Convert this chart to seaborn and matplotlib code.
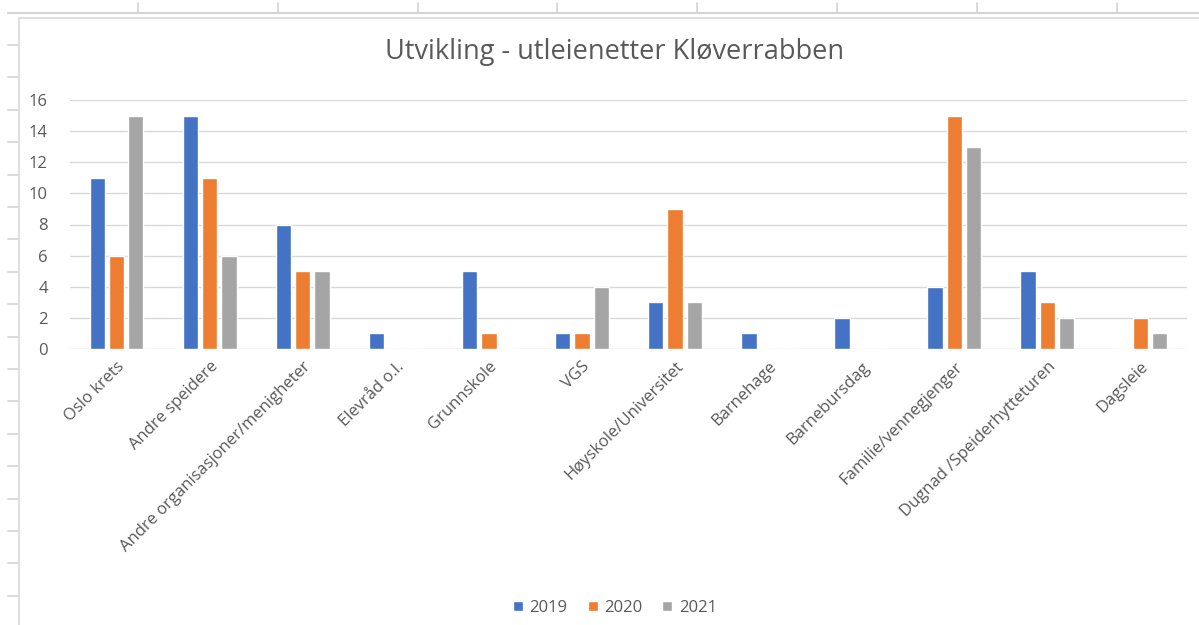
import pandas as pd
import matplotlib.pyplot as plt
import seaborn as sns
from matplotlib.lines import Line2D
from matplotlib.patches import Rectangle

# data
categories = ['Oslo krets', 'Andre speidere', 'Andre organisasjoner/menigheter', 'Elevråd o.l.',
              'Grunnskole', 'VGS', 'Høyskole/Universitet', 'Barnehage', 'Barnebursdag',
              'Familie/vennegjenger', 'Dugnad /Speiderhytteturen', 'Dagsleie']
years = ['2019', '2020', '2021']
v2019 = [11, 15, 8, 1, 5, 1, 3, 1, 2, 4, 5, 0]
v2020 = [6, 11, 5, 0, 1, 1, 9, 0, 0, 15, 3, 2]
v2021 = [15, 6, 5, 0, 0, 4, 3, 0, 0, 13, 2, 1]
colors = ['#4472C4', '#ED7D31', '#A5A5A5']

df = pd.DataFrame({'Kategori': categories * 3,
                   'År': [y for y in years for _ in categories],
                   'Antall': v2019 + v2020 + v2021})

sns.set_style('white')
plt.rcParams['font.family'] = ['Open Sans', 'DejaVu Sans']
text_col = '#595959'

W, H = 1199, 625
fig = plt.figure(figsize=(W / 100, H / 100), dpi=100)
fig.patch.set_facecolor('white')

# spreadsheet background (row/column lines)
grid_col = '#d4d4d4'
fig.add_artist(Line2D([8 / W, 1], [1 - 13 / H, 1 - 13 / H], color=grid_col, lw=1.5, zorder=-2))
for x in [138, 278, 418, 557, 697, 837, 977, 1117]:
    fig.add_artist(Line2D([x / W, x / W], [1 - 3 / H, 1 - 13 / H], color=grid_col, lw=1.2, zorder=-2))
y = 45
while y < H:
    fig.add_artist(Line2D([8 / W, 19 / W], [1 - y / H, 1 - y / H], color=grid_col, lw=1.2, zorder=-2))
    y += 32.4

# chart area border
fig.add_artist(Rectangle((19 / W, -0.05), 1.1, 1 - 18 / H + 0.05, transform=fig.transFigure,
                         facecolor='white', edgecolor='#d9d9d9', lw=1.2, zorder=-1))

ax = fig.add_axes([70 / W, 1 - 349 / H, (1187 - 70) / W, (349 - 100) / H])
ax.patch.set_alpha(0)
sns.barplot(data=df, x='Kategori', y='Antall', hue='År', hue_order=years, palette=colors,
            order=categories, width=0.62, gap=0.2, saturation=1, ax=ax, legend=False)

ax.set_ylim(0, 16)
ax.set_yticks(range(0, 17, 2))
ax.yaxis.grid(True, color='#d9d9d9', lw=1)
ax.set_axisbelow(True)
for s in ax.spines.values():
    s.set_visible(False)
ax.set_xlabel('')
ax.set_ylabel('')
ax.tick_params(axis='both', length=0, labelsize=12, labelcolor=text_col)
ax.tick_params(axis='y', pad=16)
ax.tick_params(axis='x', pad=7)
ax.set_xticks(range(len(categories)))
ax.set_xticklabels(categories, rotation=45, ha='right', rotation_mode='anchor')
ax.set_xlim(-0.5, len(categories) - 0.5)

fig.text(615 / W, 1 - 52 / H, 'Utvikling - utleienetter Kløverrabben', ha='center', va='center',
         fontsize=19.5, color=text_col)

handles = [Rectangle((0, 0), 1, 1, facecolor=c) for c in colors]
fig.legend(handles, years, loc='center', bbox_to_anchor=(615 / W, 1 - 608 / H), ncol=3,
           frameon=False, fontsize=12, labelcolor=text_col, handlelength=0.6, handleheight=0.6,
           handletextpad=0.4, columnspacing=1.2)

fig.savefig('out.png', dpi=100)
